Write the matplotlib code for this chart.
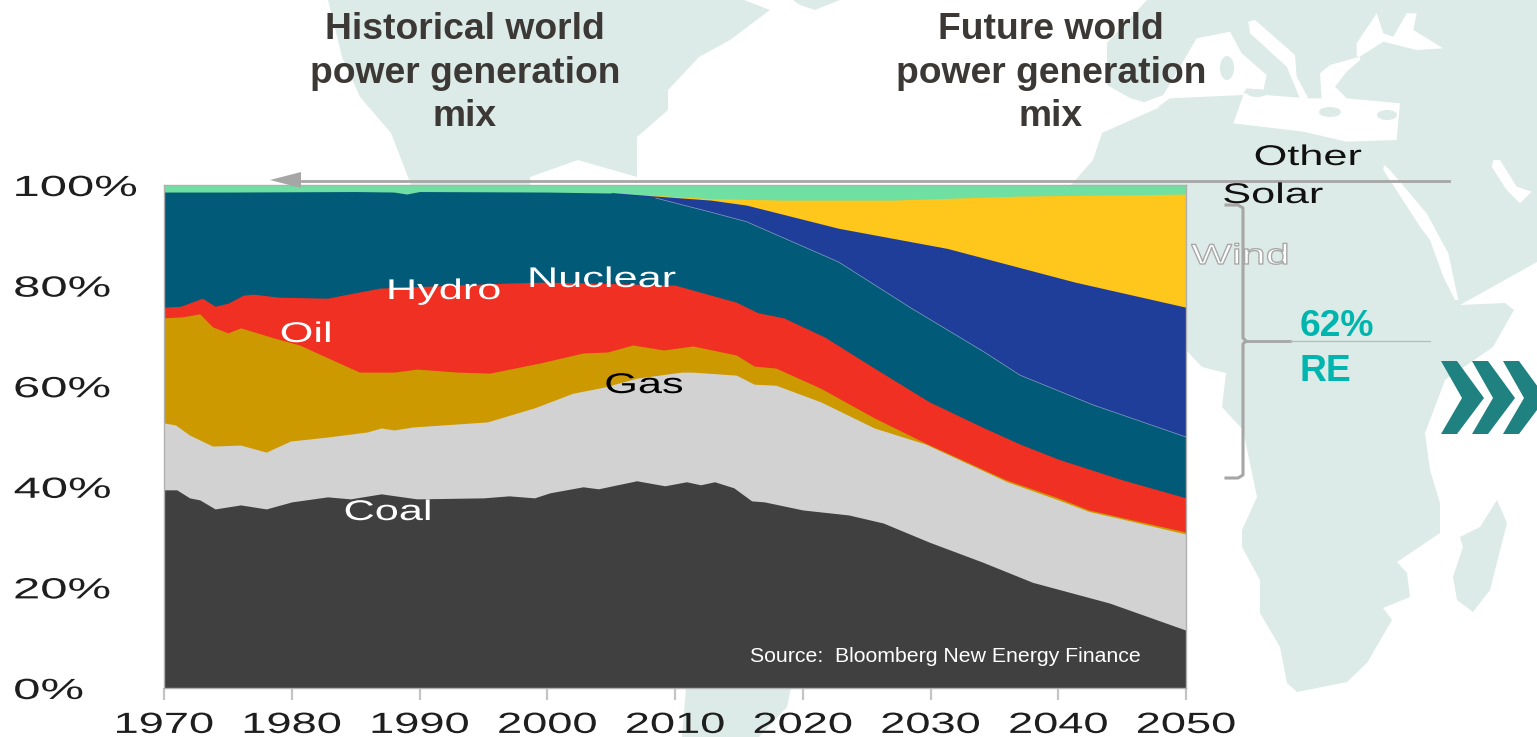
import matplotlib
matplotlib.use('Agg')
import matplotlib.pyplot as plt
from matplotlib.patches import Polygon, Ellipse
from matplotlib.patheffects import AbstractPathEffect
from matplotlib.transforms import Affine2D

plt.rcParams['font.family'] = ['Liberation Sans', 'DejaVu Sans']

# top edge of each stacked layer, percent of generation
coal_years = [1970, 1971, 1972, 1972.8, 1974, 1976, 1978, 1980, 1982.8, 1984.6, 1987, 1989.8, 1995, 1997, 1999,
              2000.2, 2002.8, 2004, 2007, 2009.2, 2010.9, 2012, 2013.1, 2014.6, 2016, 2017, 2020, 2023.6, 2026.3,
              2029.9, 2034.1, 2038, 2044, 2050]
coal_top = [39.4, 39.4, 37.8, 37.4, 35.6, 36.4, 35.6, 37, 38, 37.6, 38.6, 37.6, 37.8, 38.2, 37.8,
            38.8, 40, 39.6, 41.2, 40.2, 41, 40.4, 41, 39.8, 37.2, 37, 35.4, 34.4, 32.8,
            29, 25, 21, 16.9, 11.5]

gas_years = [1970, 1970.9, 1972, 1973.8, 1976, 1978, 1979.9, 1982.8, 1985.9, 1987, 1988, 1989.5, 1995.3, 1999,
             2002, 2004.4, 2007, 2010.5, 2011.4, 2014.8, 2016.2, 2017.9, 2021.4, 2025.6, 2029.6, 2036, 2040, 2042.4,
             2045, 2050]
gas_top = [52.7, 52.3, 50.3, 48.1, 48.3, 46.9, 49.1, 49.9, 50.9, 51.7, 51.3, 51.9, 52.9, 55.7,
           58.6, 59.8, 61.6, 62.8, 62.8, 62.2, 60.4, 60.2, 56.9, 51.7, 48.5, 41, 37.4, 35.1,
           33.6, 30.6]

oil_years = [1970, 1971.5, 1972.8, 1973.8, 1975, 1976, 1978.6, 1980.6, 1983.2, 1985.3, 1988, 1989.8, 1993, 1995.5,
             1999.4, 2002.8, 2004.7, 2006.7, 2009.1, 2011.4, 2014.8, 2016.2, 2017.9, 2021.4, 2025.6, 2029.6, 2035.9,
             2040, 2042.4, 2050]
oil_top = [73.6, 73.8, 74.4, 71.8, 70.6, 71.6, 69.6, 68.2, 65.2, 62.8, 62.8, 63.4, 62.8, 62.6,
           64.6, 66.6, 66.8, 68.2, 67.2, 68, 66.2, 64, 63.6, 59.6, 53.7, 48.7, 41.4,
           37.8, 35.4, 31]

hydro_years = [1970, 1971.3, 1973, 1974, 1975, 1976.2, 1977, 1979, 1982.8, 1984.8, 1986.9, 1996.8, 2000, 2010,
               2014.8, 2016.5, 2018.5, 2021.7, 2025.6, 2029.9, 2034.2, 2037, 2040, 2045, 2050]
hydro_top = [75.7, 75.9, 77.5, 75.9, 76.5, 78.1, 78.3, 77.7, 77.5, 78.5, 79.5, 80.5, 80.7, 80.1,
             76.7, 74.6, 73.6, 69.8, 63.6, 56.9, 51.7, 48.5, 45.5, 41.4, 37.8]

nuclear_years = [1970, 1975, 1985, 1988, 1989, 1990, 2000, 2005, 2008.5, 2012.8, 2015.6, 2022.8, 2028.5, 2034.2,
                 2037, 2042.7, 2050]
nuclear_top = [98.6, 98.6, 98.7, 98.6, 98.2, 98.7, 98.6, 98.4, 97.4, 94.6, 92.7, 84.7, 75.5, 66.8,
               62.2, 56.3, 49.9]

wind_years = [2005, 2008.5, 2012.8, 2015.6, 2022.8, 2031.3, 2041.3, 2050]
wind_top = [98.5, 97.8, 97, 96, 91.4, 87.4, 80.7, 75.7]

solar_years = [2008, 2012.8, 2018.5, 2027, 2037, 2050]
solar_top = [98, 97.3, 97, 97, 97.8, 98.2]

other_years = [1970, 2050]
other_top = [100, 100]

decade_ticks = [1970, 1980, 1990, 2000, 2010, 2020, 2030, 2040, 2050]
pct_ticks = [0, 20, 40, 60, 80, 100]
pct_labels = ['0%', '20%', '40%', '60%', '80%', '100%']

# drawn from the top layer down so each one covers the rest of the one above
layers = [(other_years, other_top, '#6fe0a2'),
          (solar_years, solar_top, '#ffc61c'),
          (wind_years, wind_top, '#1f3e99'),
          (nuclear_years, nuclear_top, '#005a78'),
          (hydro_years, hydro_top, '#f03022'),
          (oil_years, oil_top, '#cc9900'),
          (gas_years, gas_top, '#d2d2d2'),
          (coal_years, coal_top, '#404040')]


class Stretch(AbstractPathEffect):
    # the chart was pasted in wide, so its labels are stretched sideways
    def __init__(self, sx, anchor='center', edge=None, lw=0):
        super().__init__()
        self.sx, self.anchor, self.edge, self.lw = sx, anchor, edge, lw

    def draw_path(self, renderer, gc, tpath, affine, rgbFace=None):
        box = tpath.get_extents()
        x0 = box.x0 if self.anchor == 'left' else (box.x0 + box.x1) / 2
        tr = Affine2D().translate(-x0, 0).scale(self.sx, 1).translate(x0, 0) + affine
        gc0 = renderer.new_gc()
        gc0.copy_properties(gc)
        if self.edge:
            gc0.set_foreground(self.edge)
            gc0.set_linewidth(self.lw)
        renderer.draw_path(gc0, tpath, tr, rgbFace)
        gc0.restore()


W, H = 1537, 737
fig = plt.figure(figsize=(W / 100, H / 100), dpi=100, facecolor='white')


def px_axes(z):
    a = fig.add_axes([0, 0, 1, 1], zorder=z)
    a.set_xlim(0, W)
    a.set_ylim(H, 0)
    a.axis('off')
    a.patch.set_alpha(0)
    return a


def east(pts):
    # seas east of Iberia were traced on a crop starting at x=1130, 3x zoom
    return [(1130 + x / 3, y / 3) for x, y in pts]


# world map behind everything
bg = px_axes(0)
land = '#dcebe7'
north_america = [(328, 0), (342, 57), (360, 97), (391, 133), (413, 190), (530, 190), (530, 177), (578, 160),
                 (637, 177), (637, 137), (668, 110), (668, 90), (699, 57), (730, 40), (770, 10), (744, 0)]
greenland = [(793, 0), (800, 5), (815, 10), (840, 0)]
south_america = [(686, 688), (791, 688), (787, 707), (759, 737), (682, 737)]
old_world = [(1147, 0), (1107, 43), (1107, 85), (1130, 98), (1160, 107), (1102, 133), (1093, 160), (1071, 185),
             (1071, 300), (1186, 350), (1202, 367), (1226, 373), (1222, 407), (1243, 430), (1257, 497), (1242, 530),
             (1242, 547), (1260, 580), (1260, 613), (1280, 647), (1287, 683), (1297, 692), (1347, 682), (1367, 663),
             (1392, 620), (1383, 608), (1410, 597), (1407, 573), (1397, 562), (1440, 533), (1440, 503), (1430, 470),
             (1425, 433), (1445, 380), (1493, 347), (1514, 310), (1505, 303), (1460, 305), (1537, 262), (1537, 0)]
madagascar = [(1497, 500), (1507, 523), (1490, 590), (1473, 612), (1457, 600), (1453, 577), (1463, 547),
              (1460, 537), (1480, 527)]
for shape in [north_america, greenland, south_america, old_world, madagascar]:
    bg.add_patch(Polygon(shape, fc=land, ec='none'))

mediterranean = east([(0, 325), (60, 300), (100, 285), (200, 115), (300, 95), (335, 160), (410, 225), (400, 270),
                      (350, 265), (340, 280), (535, 295), (575, 295), (570, 220), (600, 195), (650, 215), (615, 260),
                      (650, 295), (810, 310), (800, 420), (650, 425), (520, 395), (310, 370), (340, 285), (120, 295),
                      (70, 330), (0, 335)])
adriatic = east([(355, 65), (375, 60), (495, 165), (500, 230), (535, 295), (510, 295), (470, 200), (360, 100)])
bosporus = east([(600, 195), (690, 170), (690, 180), (650, 215)])
black_sea = east([(680, 170), (680, 130), (740, 40), (760, 100), (790, 110), (830, 40), (860, 40), (850, 90),
                  (940, 145), (860, 150), (760, 125), (690, 170)])
red_sea = east([(762, 495), (780, 510), (890, 640), (955, 760), (985, 900), (975, 900), (940, 830), (900, 720),
                (870, 680), (760, 510)])
gulf = east([(1090, 480), (1110, 480), (1160, 560), (1205, 575), (1170, 610), (1130, 570), (1085, 500)])
for shape in [mediterranean, adriatic, bosporus, black_sea, red_sea, gulf]:
    bg.add_patch(Polygon(shape, fc='white', ec='none'))
for (cx, cy), w, h in [((1227, 68), 14, 24), ((1257, 93), 20, 8), ((1330, 112), 22, 10), ((1387, 115), 20, 10)]:
    bg.add_patch(Ellipse((cx, cy), w, h, fc=land, ec='none'))

# the chart itself
ax = fig.add_axes([164 / W, 1 - 688 / H, (1186 - 164) / W, (688 - 185) / H], zorder=1)
ax.patch.set_alpha(0)
for xs, ys, col in layers:
    ax.fill_between(xs, 0, ys, color=col, lw=0)
ax.plot(nuclear_years[8:], nuclear_top[8:], color='#7fa6bb', lw=0.5)
ax.set_xlim(1970, 2050)
ax.set_ylim(0, 100)
ax.set_xticks(decade_ticks)
ax.set_yticks(pct_ticks)
ax.set_yticklabels(pct_labels, ha='left')
ax.tick_params(axis='x', length=8.5, width=1.6, color='#c4c4c4', pad=8, labelsize=21, labelcolor='#1e1e1e')
ax.tick_params(axis='y', length=0, pad=108, labelsize=21, labelcolor='#1e1e1e')
for s in ax.spines.values():
    s.set_color('#b0b0b0')
    s.set_linewidth(1)
for t in ax.get_xticklabels():
    t.set_path_effects([Stretch(1.55)])
for t in ax.get_yticklabels():
    t.set_path_effects([Stretch(1.68, 'left')])

# labels, arrow and bracket sit on top
top = px_axes(2)
grey = '#a6a6a6'
for x, txt in [(465, 'Historical world\npower generation\nmix'), (1051, 'Future world\npower generation\nmix')]:
    top.text(x, 73, txt, ha='center', va='center', fontsize=26.8, fontweight='bold', color='#3b3835',
             linespacing=1.33)

for x, y, txt, col in [(444, 292, 'Hydro', 'white'), (602, 280, 'Nuclear', 'white'), (306, 335, 'Oil', 'white'),
                       (644, 386, 'Gas', 'black'), (388, 513, 'Coal', 'white'), (1308, 158, 'Other', '#111111'),
                       (1273, 196, 'Solar', '#111111')]:
    top.text(x, y, txt, ha='center', va='center', fontsize=20.5, color=col, path_effects=[Stretch(1.52)])
top.text(1240, 257, 'Wind', ha='center', va='center', fontsize=20.5, color='white',
         path_effects=[Stretch(1.52, edge='#a8a8a8', lw=1)])
top.text(945, 657, 'Source:  Bloomberg New Energy Finance', ha='center', va='center', fontsize=15.3, color='white')
top.text(1300, 326, '62%', ha='left', va='center', fontsize=26.8, fontweight='bold', color='#00b5ad')
top.text(1300, 371, 'RE', ha='left', va='center', fontsize=26.8, fontweight='bold', color='#00b5ad')

top.plot([298, 1449], [181, 181], color=grey, lw=2)
top.add_patch(Polygon([(270, 180), (301, 172), (301, 188)], fc=grey, ec='none'))
top.plot([1226, 1238, 1243, 1243, 1246, 1243, 1243, 1238, 1226],
         [205, 205, 208, 338, 341, 344, 475, 478, 478], color=grey, lw=2.2)
top.plot([1246, 1290], [341, 341], color=grey, lw=2)
top.plot([1290, 1430], [341, 341], color='#b8b8b8', lw=0.9)

for off in [0, 31, 62]:
    top.add_patch(Polygon([(1441 + off, 361), (1457 + off, 361), (1484 + off, 398), (1457 + off, 434),
                           (1441 + off, 434), (1462 + off, 398)], fc='#1f8280', ec='none'))

fig.savefig('out.png', dpi=100)
